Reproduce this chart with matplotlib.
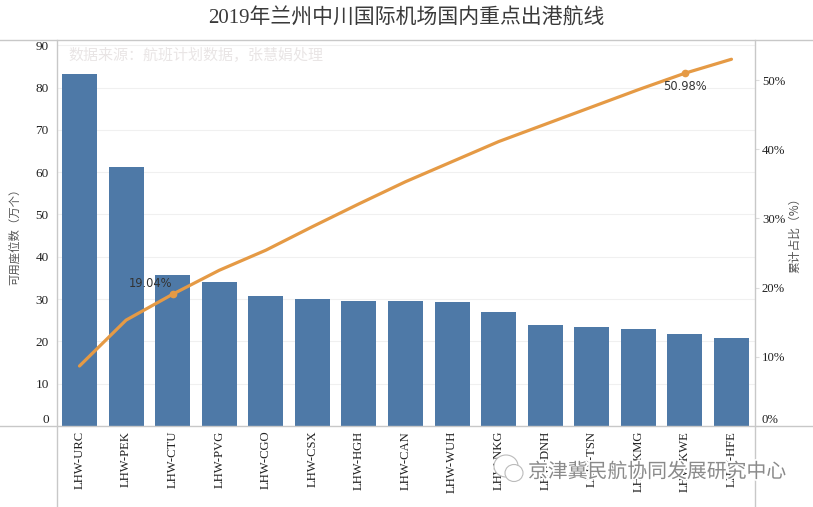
import matplotlib
matplotlib.use("Agg")
import matplotlib.pyplot as plt
import matplotlib.patheffects as pe
from matplotlib.lines import Line2D
from matplotlib.patches import Ellipse

routes = ["LHW-URC", "LHW-PEK", "LHW-CTU", "LHW-PVG", "LHW-CGO", "LHW-CSX", "LHW-HGH", "LHW-CAN",
          "LHW-WUH", "LHW-NKG", "LHW-DNH", "LHW-TSN", "LHW-KMG", "LHW-KWE", "LHW-HFE"]
seats = [83.2, 61.2, 35.6, 34, 30.7, 30, 29.6, 29.5, 29.2, 26.9, 23.8, 23.5, 23, 21.7, 20.7]
cumulative = [8.67, 15.3, 19.04, 22.5, 25.4, 28.8, 32.1, 35.3, 38.2, 41.1, 43.6, 46.1, 48.6, 50.98, 53.0]
left_ticks = [0, 10, 20, 30, 40, 50, 60, 70, 80, 90]
right_ticks = [0, 10, 20, 30, 40, 50]

W, H = 813, 507
SERIF = ["Liberation Serif", "Noto Sans CJK SC"]
SANS = ["Noto Sans CJK SC", "DejaVu Sans"]
AXC = "#c8c8c8"

fig = plt.figure(figsize=(W / 100, H / 100), dpi=100, facecolor="white")
L, R, T, B = 57, 755, 40, 426
ax = fig.add_axes([L / W, 1 - B / H, (R - L) / W, (B - T) / H])
ax.set_xlim(-0.483, 14.505)
ax.set_ylim(0, 91.25)
x = list(range(len(routes)))
ax.bar(x, seats, width=0.75, color="#4e79a7", zorder=2)
ax.set_yticks(left_ticks)
ax.grid(axis="y", color="#f0f0f0", lw=0.8, zorder=0)
ax.set_axisbelow(True)
for s in ax.spines.values():
    s.set_visible(False)
ax.tick_params(axis="y", length=0, pad=6, labelsize=9.5, labelcolor="#222222")
for t in ax.get_yticklabels():
    t.set_fontfamily(SERIF)
ax.get_yticklabels()[0].set_va("bottom")
ax.set_xticks(x)
ax.set_xticklabels(routes, rotation=90, fontfamily=SERIF, fontsize=9.1, color="#222222")
ax.tick_params(axis="x", length=0, pad=3.5)

ax2 = ax.twinx()
ax2.set_ylim(0, 386 / 6.92)
ax2.set_yticks(right_ticks)
ax2.set_yticklabels([f"{v}%" for v in right_ticks], fontfamily=SERIF, fontsize=9.2, color="#222222")
ax2.get_yticklabels()[0].set_va("bottom")
ax2.tick_params(axis="y", length=3, width=0.8, color="#dddddd", pad=2)
for s in ax2.spines.values():
    s.set_visible(False)
LINEC = "#e59a45"
ax2.plot(x, cumulative, color=LINEC, lw=2.3, zorder=4, solid_capstyle="round")
ax2.plot([2, 13], [cumulative[2], cumulative[13]], "o", color=LINEC, ms=4.5, zorder=5)
ax2.annotate(f"{cumulative[2]:.2f}%", (2, cumulative[2]), xytext=(-16, 8), textcoords="offset points",
             ha="center", va="center", fontsize=8.3, color="#333333", zorder=6, family="DejaVu Sans")
ax2.annotate(f"{cumulative[13]:.2f}%", (13, cumulative[13]), xytext=(0, -9.5), textcoords="offset points",
             ha="center", va="center", fontsize=8.3, color="#333333", zorder=6, family="DejaVu Sans")

for line in [((0, W), (T, T)), ((0, W), (B, B)), ((L, L), (T, H)), ((R, R), (T, H))]:
    fig.add_artist(Line2D([v / W for v in line[0]], [1 - v / H for v in line[1]], color=AXC, lw=1.0))

fig.text(406 / W, 1 - 19 / H, "2019年兰州中川国际机场国内重点出港航线", ha="center", va="center",
         fontsize=15, color="#3a3a3a", family=SERIF)
fig.text(68 / W, 1 - 55 / H, "数据来源：航班计划数据，张慧娟处理", ha="left", va="center",
         fontsize=10.8, color="#e9e5e5", family=SANS)
fig.text(14 / W, 1 - 234 / H, "可用座位数（万个）", rotation=90, ha="center", va="center",
         fontsize=8.2, color="#555555", family=SANS)
fig.text(795 / W, 1 - 232 / H, "累计占比（%）", rotation=90, ha="center", va="center",
         fontsize=8.5, color="#555555", family=SANS)

# watermark
wm = fig.text(528 / W, 1 - 472 / H, "京津冀民航协同发展研究中心", ha="left", va="center", fontsize=14.3,
              color="#8a8a8a", family=SANS, zorder=20)
wm.set_path_effects([pe.withStroke(linewidth=2.5, foreground="white")])
for (cx, cy, w, h) in [(506, 466, 24, 22), (514, 473, 18, 17)]:
    fig.add_artist(Ellipse((cx / W, 1 - cy / H), w / W, h / H, transform=fig.transFigure,
                           facecolor="white", edgecolor="#bbbbbb", lw=0.8, zorder=19))

fig.savefig("out.png", dpi=100, facecolor="white")
